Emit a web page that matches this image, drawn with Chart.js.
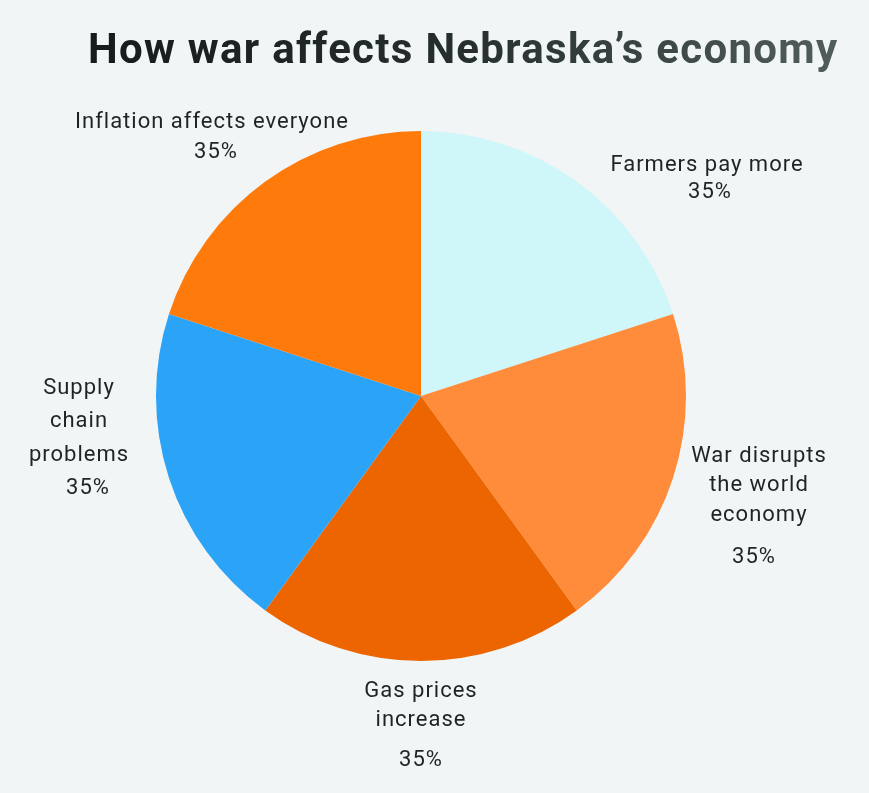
<!DOCTYPE html>
<html><head><meta charset="utf-8">
<script src="https://cdn.jsdelivr.net/npm/chart.js@4"></script>
<style>html,body{margin:0;padding:0;background:#f1f5f6;overflow:hidden}#wrap{width:869px;height:793px;position:relative}</style>
</head><body><div id="wrap"><canvas id="c" width="869" height="793"></canvas></div>
<script>
const titleText = "How war affects Nebraska’s economy";
const categories = [["Farmers pay more"], ["War disrupts", "the world", "economy"], ["Gas prices", "increase"], ["Supply", "chain", "problems"], ["Inflation affects everyone"]];
const values = [35, 35, 35, 35, 35];
const valueLabels = ["35%", "35%", "35%", "35%", "35%"];
const colors = ["#cff6f8", "#fe8c3b", "#ec6500", "#2ba3f7", "#fe7a0a"];

// label placement relative to the pie centre (style)
const labelLayout = [
  {dx: 286, ys: [-231, -204], pctDx: 3},
  {dx: 338, ys: [60, 89.5, 119, 161], pctDx: -5},
  {dx: 0, ys: [295, 324, 364], pctDx: 0},
  {dx: -342, ys: [-8, 25.5, 59, 92], pctDx: 9},
  {dx: -209, ys: [-274, -244], pctDx: 4}
];
const LABEL_FONT = '22px Roboto';
const TEXT_COLOR = '#1c2424';

const overlay = {
  id: 'overlay',
  afterDraw(chart) {
    const ctx = chart.ctx;
    const meta = chart.getDatasetMeta(0);
    const cx = meta.data[0].x, cy = meta.data[0].y;
    ctx.save();
    // title
    ctx.font = 'bold 42px Roboto';
    ctx.letterSpacing = '1.3px';
    ctx.textBaseline = 'alphabetic';
    ctx.textAlign = 'left';
    const tw = ctx.measureText(titleText).width;
    const tx = 88;
    const g = ctx.createLinearGradient(tx, 0, tx + tw, 0);
    g.addColorStop(0, '#161b1b');
    g.addColorStop(0.5, '#262e2e');
    g.addColorStop(1, '#525d5d');
    ctx.fillStyle = g;
    ctx.fillText(titleText, tx, 63);
    // labels
    ctx.font = LABEL_FONT;
    ctx.letterSpacing = '1px';
    ctx.fillStyle = TEXT_COLOR;
    ctx.textAlign = 'center';
    ctx.textBaseline = 'middle';
    categories.forEach((lines, i) => {
      const L = labelLayout[i];
      lines.forEach((ln, j) => ctx.fillText(ln, cx + L.dx, cy + L.ys[j]));
      ctx.fillText(valueLabels[i], cx + L.dx + L.pctDx, cy + L.ys[lines.length]);
    });
    ctx.restore();
  }
};

new Chart(document.getElementById('c'), {
  type: 'pie',
  data: {
    labels: categories.map(l => l.join(' ')),
    datasets: [{data: values, backgroundColor: colors, borderWidth: 0}]
  },
  options: {
    responsive: false,
    devicePixelRatio: 1,
    animation: false,
    layout: {padding: {left: 156, right: 183, top: 131, bottom: 132}},
    plugins: {legend: {display: false}, tooltip: {enabled: false}, title: {display: false}}
  },
  plugins: [overlay]
});
</script></body></html>
